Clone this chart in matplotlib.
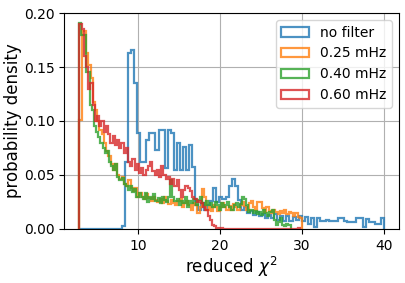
import numpy as np
import matplotlib
matplotlib.use("Agg")
import matplotlib.pyplot as plt

labels = ["no filter", "0.25 mHz", "0.40 mHz", "0.60 mHz"]

# histogram ranges (min, max of reduced chi^2) for each series, 100 bins each
range_nofilter = (2.8, 40.0)
range_025 = (2.8, 30.0)
range_040 = (2.8, 28.6)
range_060 = (2.8, 29.8)
n_bins = 100

dens_nofilter = [
    0.0003, 0.0, 0.0, 0.0, 0.0, 0.0, 0.0, 0.0, 0.0, 0.0,
    0.0, 0.0, 0.0, 0.0, 0.003, 0.062, 0.163, 0.166, 0.135, 0.089,
    0.062, 0.062, 0.082, 0.089, 0.089, 0.073, 0.092, 0.092, 0.056, 0.092,
    0.089, 0.055, 0.080, 0.055, 0.076, 0.055, 0.078, 0.057, 0.022, 0.018,
    0.024, 0.018, 0.022, 0.026, 0.038, 0.025, 0.030, 0.028, 0.030, 0.040,
    0.046, 0.040, 0.027, 0.018, 0.020, 0.015, 0.017, 0.013, 0.016, 0.012,
    0.014, 0.010, 0.013, 0.010, 0.014, 0.008, 0.012, 0.007, 0.012, 0.007,
    0.011, 0.008, 0.012, 0.007, 0.011, 0.005, 0.0105, 0.002, 0.0105, 0.0074,
    0.0074, 0.0080, 0.0070, 0.0074, 0.0074, 0.0105, 0.0105, 0.0074, 0.0062, 0.0062,
    0.0062, 0.0105, 0.0105, 0.0022, 0.0093, 0.0068, 0.0068, 0.0043, 0.0043, 0.0099,
]

dens_025 = [
    0.101, 0.183, 0.183, 0.163, 0.152, 0.140, 0.118, 0.110, 0.100, 0.092,
    0.088, 0.080, 0.072, 0.068, 0.060, 0.055, 0.060, 0.050, 0.046, 0.048,
    0.042, 0.040, 0.045, 0.038, 0.035, 0.038, 0.030, 0.033, 0.030, 0.028,
    0.032, 0.029, 0.026, 0.030, 0.027, 0.025, 0.028, 0.024, 0.030, 0.026,
    0.023, 0.027, 0.024, 0.022, 0.026, 0.028, 0.020, 0.024, 0.026, 0.022,
    0.018, 0.024, 0.022, 0.015, 0.020, 0.037, 0.030, 0.018, 0.020, 0.017,
    0.022, 0.020, 0.017, 0.020, 0.024, 0.020, 0.018, 0.021, 0.018, 0.023,
    0.020, 0.018, 0.022, 0.025, 0.021, 0.018, 0.024, 0.026, 0.020, 0.018,
    0.025, 0.025, 0.019, 0.016, 0.020, 0.017, 0.015, 0.018, 0.016, 0.014,
    0.017, 0.015, 0.018, 0.014, 0.016, 0.015, 0.012, 0.015, 0.011, 0.010,
]

dens_040 = [
    0.191, 0.180, 0.180, 0.145, 0.145, 0.115, 0.110, 0.095, 0.090, 0.085,
    0.080, 0.075, 0.070, 0.072, 0.062, 0.058, 0.055, 0.060, 0.048, 0.045,
    0.047, 0.042, 0.040, 0.036, 0.040, 0.034, 0.037, 0.030, 0.033, 0.030,
    0.028, 0.033, 0.025, 0.030, 0.028, 0.032, 0.026, 0.029, 0.024, 0.030,
    0.027, 0.025, 0.030, 0.045, 0.030, 0.026, 0.028, 0.022, 0.026, 0.024,
    0.030, 0.020, 0.026, 0.024, 0.028, 0.022, 0.027, 0.030, 0.024, 0.022,
    0.026, 0.022, 0.024, 0.020, 0.025, 0.022, 0.018, 0.024, 0.020, 0.022,
    0.025, 0.020, 0.018, 0.022, 0.024, 0.020, 0.023, 0.030, 0.028, 0.022,
    0.016, 0.018, 0.015, 0.017, 0.014, 0.016, 0.013, 0.018, 0.015, 0.012,
    0.016, 0.018, 0.008, 0.004, 0.006, 0.010, 0.004, 0.003, 0.005, 0.004,
]

dens_060 = [
    0.190, 0.185, 0.160, 0.150, 0.130, 0.135, 0.115, 0.100, 0.105, 0.095,
    0.100, 0.090, 0.095, 0.088, 0.080, 0.086, 0.078, 0.082, 0.075, 0.080,
    0.070, 0.075, 0.062, 0.058, 0.065, 0.055, 0.060, 0.052, 0.056, 0.050,
    0.055, 0.058, 0.062, 0.054, 0.050, 0.055, 0.048, 0.058, 0.050, 0.046,
    0.048, 0.042, 0.046, 0.040, 0.045, 0.036, 0.030, 0.036, 0.040, 0.038,
    0.035, 0.030, 0.028, 0.025, 0.026, 0.024, 0.020, 0.018, 0.012, 0.008,
    0.004, 0.003, 0.001, 0.0005, 0.0005, 0.0, 0.0, 0.0, 0.0, 0.0,
    0.0, 0.0, 0.0, 0.0, 0.0, 0.0, 0.0, 0.0, 0.0, 0.0,
    0.0, 0.0, 0.0, 0.0, 0.0, 0.0, 0.0, 0.0, 0.0, 0.0,
    0.0, 0.0, 0.0, 0.0, 0.0, 0.0, 0.0, 0.0, 0.0, 0.0005,
]

series = [
    (range_nofilter, dens_nofilter, labels[0], "tab:blue"),
    (range_025, dens_025, labels[1], "tab:orange"),
    (range_040, dens_040, labels[2], "tab:green"),
    (range_060, dens_060, labels[3], "tab:red"),
]

fig = plt.figure(figsize=(4.06, 2.83), dpi=100)
ax = fig.add_axes([0.158, 0.191, 0.825, 0.763])

for rng, dens, lab, col in series:
    edges = np.linspace(rng[0], rng[1], n_bins + 1)
    ax.hist(edges[:-1], bins=edges, weights=dens, histtype="step",
            linewidth=1.6, alpha=0.8, color=col, label=lab)

ax.set_ylim(0, 0.2)
ax.set_yticks([0.0, 0.05, 0.10, 0.15, 0.20])
ax.set_yticklabels(["0.00", "0.05", "0.10", "0.15", "0.20"])
ax.set_xticks([10, 20, 30, 40])
ax.tick_params(labelsize=10)
ax.grid(True, color="#b0b0b0", linewidth=0.8)
ax.set_axisbelow(True)
ax.set_xlabel(r"reduced $\chi^2$", fontsize=12, labelpad=1.5)
ax.set_ylabel("probability density", fontsize=12, labelpad=1.0)
ax.legend(loc="upper right", fontsize=10)

fig.savefig("out.png", dpi=100)
